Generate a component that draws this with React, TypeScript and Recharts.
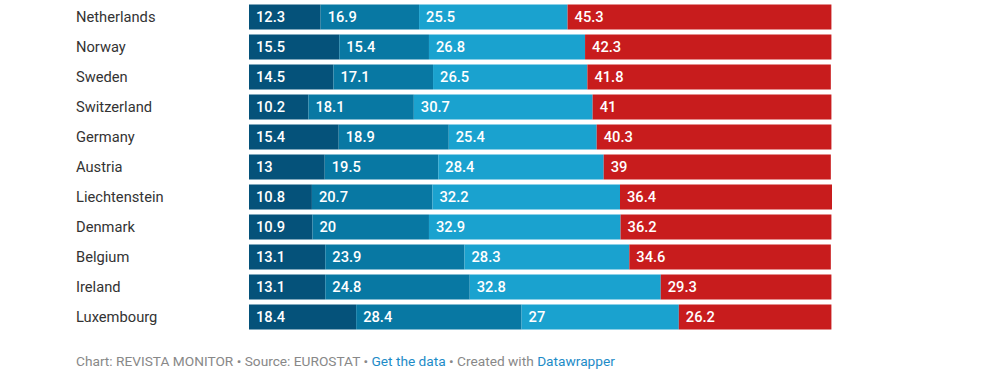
import React from 'react';
import { BarChart, Bar, XAxis, YAxis, LabelList } from 'recharts';

const countries = [
  'Netherlands', 'Norway', 'Sweden', 'Switzerland', 'Germany', 'Austria',
  'Liechtenstein', 'Denmark', 'Belgium', 'Ireland', 'Luxembourg',
];
const seriesA = [12.3, 15.5, 14.5, 10.2, 15.4, 13, 10.8, 10.9, 13.1, 13.1, 18.4];
const seriesB = [16.9, 15.4, 17.1, 18.1, 18.9, 19.5, 20.7, 20, 23.9, 24.8, 28.4];
const seriesC = [25.5, 26.8, 26.5, 30.7, 25.4, 28.4, 32.2, 32.9, 28.3, 32.8, 27];
const seriesD = [45.3, 42.3, 41.8, 41, 40.3, 39, 36.4, 36.2, 34.6, 29.3, 26.2];

const data = countries.map((country, i) => ({
  country,
  a: seriesA[i],
  b: seriesB[i],
  c: seriesC[i],
  d: seriesD[i],
}));

const FONT = 'Roboto, "Noto Sans", sans-serif';

const CountryTick = ({ y, payload }: any) => (
  <text x={76} y={y} dy={5} fill="#333333" fontSize={14.7} fontFamily={FONT} textAnchor="start">
    {payload.value}
  </text>
);

const labelStyle = { fill: '#ffffff', fontSize: 14.7, fontWeight: 500, fontFamily: FONT };

const segments = [
  { key: 'a', color: '#05527a' },
  { key: 'b', color: '#0878a3' },
  { key: 'c', color: '#1aa2cf' },
  { key: 'd', color: '#c81c1d' },
];

export default function App() {
  return (
    <div style={{ position: 'absolute', left: 0, top: 0, width: 989, height: 384, background: '#fff' }}>
      <BarChart
        width={989}
        height={340}
        data={data}
        layout="vertical"
        margin={{ top: 1.5, right: 157, bottom: 8.5, left: 0 }}
      >
        <XAxis type="number" domain={[0, 100]} hide />
        <YAxis
          type="category"
          dataKey="country"
          width={249}
          axisLine={false}
          tickLine={false}
          tick={<CountryTick />}
        />
        {segments.map((s) => (
          <Bar key={s.key} dataKey={s.key} stackId="x" fill={s.color} barSize={25} isAnimationActive={false}>
            <LabelList dataKey={s.key} position="insideLeft" offset={7} style={labelStyle} />
          </Bar>
        ))}
      </BarChart>
      <div
        style={{
          position: 'absolute',
          left: 76,
          top: 353,
          fontFamily: FONT,
          fontSize: 13.7,
          color: '#888888',
          whiteSpace: 'nowrap',
        }}
      >
        Chart: REVISTA MONITOR • Source: EUROSTAT •{' '}
        <span style={{ color: '#1d8bc7' }}>Get the data</span> • Created with{' '}
        <span style={{ color: '#1d8bc7' }}>Datawrapper</span>
      </div>
    </div>
  );
}
